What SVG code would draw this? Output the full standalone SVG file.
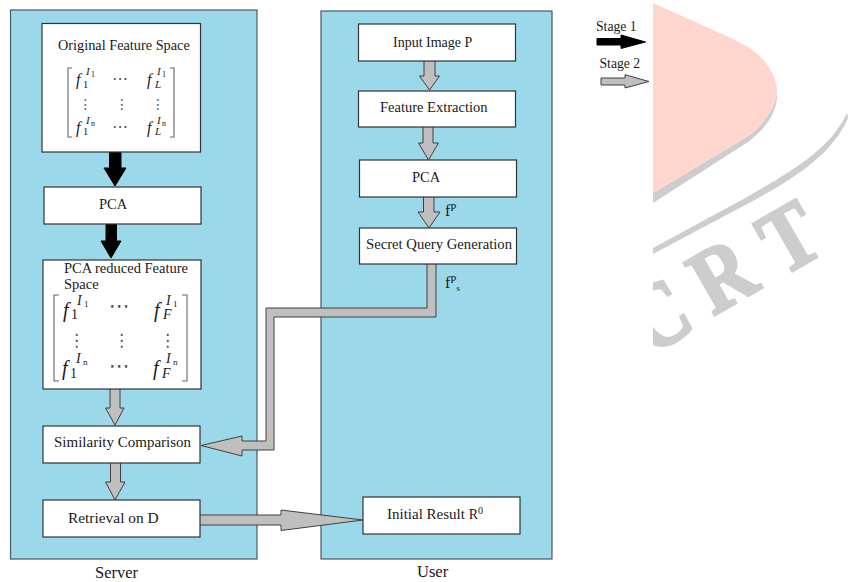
<svg xmlns="http://www.w3.org/2000/svg" width="848" height="582" viewBox="0 0 848 582">
<style>
.panel{fill:#9ad8ea;stroke:#4a5a60;stroke-width:1.2}
.box{fill:#fff;stroke:#333;stroke-width:1.2}
.b{fill:#000;stroke:#000;stroke-width:1}
.g{fill:#bfbfbf;stroke:#404040;stroke-width:1}
text{font-family:"Liberation Serif","Times New Roman",serif;fill:#1a1a1a}
.t{font-size:14.500px}
.m{fill:#444;font-style:italic}
.f{font-size:16px}
.s{font-size:10.500px;font-style:normal}
.sv{font-size:11px}
.ss{font-size:8px;font-style:normal}
.f2{font-size:20px}
.s2{font-size:14px}
.ss2{font-size:9px}
.d{font-family:"DejaVu Sans",sans-serif;fill:#555;font-style:normal}
.br{fill:none;stroke:#666;stroke-width:1.100}
.wm{fill:#cdcdcd;stroke:#cdcdcd;stroke-width:3px;font-weight:bold;font-size:92px}
</style>
<defs><clipPath id="wc"><rect x="653" y="0" width="195" height="582"/></clipPath></defs>

<g id="watermark" clip-path="url(#wc)">
<path d="M653 193L745 138C762 127 773 112 777 92C778 108 770 125 748 142L653 203Z" fill="#cdcdcd"/>
<path d="M653 3L713 30C735 40 755 48 765 62C773 72 777 82 777 92C777 105 765 125 745 138L653 193Z" fill="#ffd6ce"/>
<path d="M653 248L747 197C790 172 830 150 847 113L848 118C832 155 795 178 749 203L653 254Z" fill="#cdcdcd"/>
<text class="wm" transform="matrix(.736 -.425 .5 .866 649 356)">C</text>
<text class="wm" transform="matrix(.736 -.425 .5 .866 713 316)">R</text>
<text class="wm" transform="matrix(.736 -.425 .5 .866 782 277)">T</text>
</g>

<g id="server"><rect class="panel" x="10.500" y="10" width="246.500" height="549"/><text style="font-size:16.500px" x="95" y="578">Server</text></g>
<g id="user"><rect class="panel" x="321" y="11" width="231" height="548"/><text style="font-size:16.500px" x="417" y="577">User</text></g>

<g id="connectors">
<path class="b" d="M109.500 152.500H121V168H126L115 186L104 168H109.500Z"/>
<path class="b" d="M106 224.500H116.500V241H121L111 258L101 241H106Z"/>
<path class="g" d="M110 389V408H105.500L115 425L124 408H120V389"/>
<path class="g" d="M110.500 463V482H105.500L115 500L125 482H120.500V463"/>
<path class="g" d="M424 61V76H419.500L429.500 90L439.500 76H435V61"/>
<path class="g" d="M423 127V143H418.500L428.500 160L438.500 143H433V127"/>
<path class="g" d="M423.500 197V212H418L429 228L440 212H434V197"/>
<path class="g" d="M427 264V308H266V441H242V436L201 445.500L242 456V450H274V317H436V264"/>
<path class="g" d="M200 515H281V510L363 520L281 530.500V525H200"/>
<path class="b" d="M597 38.500H621V35L645.500 42L621 48.500V45H597Z"/>
<path class="g" d="M601 78H625V74.700L649 81.500L625 88V85H601Z"/>
</g>

<g id="legend"><text style="font-size:13.700px" x="596" y="31">Stage 1</text><text style="font-size:13.700px" x="599.500" y="68">Stage 2</text></g>

<g id="original-feature-space">
<rect class="box" x="42" y="23.500" width="158.500" height="128.500"/>
<text style="font-size:14.300px" x="58" y="50">Original Feature Space</text>
<path class="br" d="M72 68H68V137H72M170 68H174V137H170"/>
<g class="m">
<text class="f" x="76" y="85">f</text><text class="s" x="83" y="88">1</text><text class="sv" x="86" y="75">I</text><text class="ss" x="91" y="77">1</text>
<text class="f" x="147" y="85">f</text><text class="sv" x="155" y="88">L</text><text class="sv" x="157" y="75">I</text><text class="ss" x="162" y="77">1</text>
<text class="f" x="76" y="133">f</text><text class="s" x="83" y="135">1</text><text class="sv" x="86" y="124">I</text><text class="ss" x="91" y="126">n</text>
<text class="f" x="147" y="133">f</text><text class="sv" x="155" y="135">L</text><text class="sv" x="157" y="124">I</text><text class="ss" x="162" y="126">n</text>
</g>
<text class="d" font-size="16" x="112" y="84">⋯</text><text class="d" font-size="16" x="112" y="132">⋯</text>
<text class="d" font-size="14" x="78.500" y="109">⋮</text><text class="d" font-size="14" x="115" y="109">⋮</text><text class="d" font-size="14" x="151" y="109">⋮</text>
</g>

<g id="pca-server"><rect class="box" x="44" y="187" width="157" height="37"/><text class="t" x="99" y="209">PCA</text></g>

<g id="pca-reduced-feature-space">
<rect class="box" x="43" y="260" width="158" height="129"/>
<text class="t" x="64" y="273">PCA reduced Feature</text>
<text class="t" x="64" y="289">Space</text>
<path class="br" d="M59 295H54V381H59M182 295H187V381H182"/>
<g class="m">
<text class="f2" x="63" y="317">f</text><text class="s s2" x="71" y="319">1</text><text class="s2" x="77" y="305">I</text><text class="ss ss2" x="84" y="307">1</text>
<text class="f2" x="154" y="317">f</text><text class="s2" x="163" y="319">F</text><text class="s2" x="166" y="305">I</text><text class="ss ss2" x="173" y="307">1</text>
<text class="f2" x="62" y="375">f</text><text class="s s2" x="70" y="378">1</text><text class="s2" x="76" y="363">I</text><text class="ss ss2" x="83" y="365">n</text>
<text class="f2" x="153" y="375">f</text><text class="s2" x="162" y="378">F</text><text class="s2" x="166" y="363">I</text><text class="ss ss2" x="173" y="365">n</text>
</g>
<text class="d" font-size="21" x="109" y="313">⋯</text><text class="d" font-size="21" x="109" y="373">⋯</text>
<text class="d" font-size="17" x="68" y="346">⋮</text><text class="d" font-size="17" x="113" y="346">⋮</text><text class="d" font-size="17" x="159" y="346">⋮</text>
</g>

<g id="similarity-comparison"><rect class="box" x="43" y="426" width="157" height="37"/><text style="font-size:15px" x="54" y="447">Similarity Comparison</text></g>
<g id="retrieval"><rect class="box" x="43" y="500" width="157" height="37"/><text style="font-size:15.400px" x="68" y="523">Retrieval on D</text></g>

<g id="input-image"><rect class="box" x="358.500" y="24" width="157" height="37"/><text style="font-size:14px" x="393" y="47">Input Image P</text></g>
<g id="feature-extraction"><rect class="box" x="358.500" y="91" width="157" height="36"/><text class="t" x="380" y="112">Feature Extraction</text></g>
<g id="pca-user"><rect class="box" x="359.500" y="160" width="157" height="37"/><text class="t" x="412" y="182">PCA</text></g>
<g id="secret-query"><rect class="box" x="359.500" y="228" width="157" height="36"/><text style="font-size:14.700px" x="366" y="249">Secret Query Generation</text></g>
<g id="initial-result"><rect class="box" x="363" y="497" width="157" height="37"/><text x="387" y="519" font-size="15px">Initial Result <tspan font-size="14px">R</tspan><tspan font-size="10px" dy="-5">0</tspan></text></g>

<g id="labels">
<text x="445" y="216" font-size="16px">f<tspan font-size="11px" dy="-5">P</tspan></text>
<text x="445" y="288" font-size="16px">f<tspan font-size="11px" dy="-5">P</tspan><tspan font-size="9px" dy="8">s</tspan></text>
</g>
</svg>
